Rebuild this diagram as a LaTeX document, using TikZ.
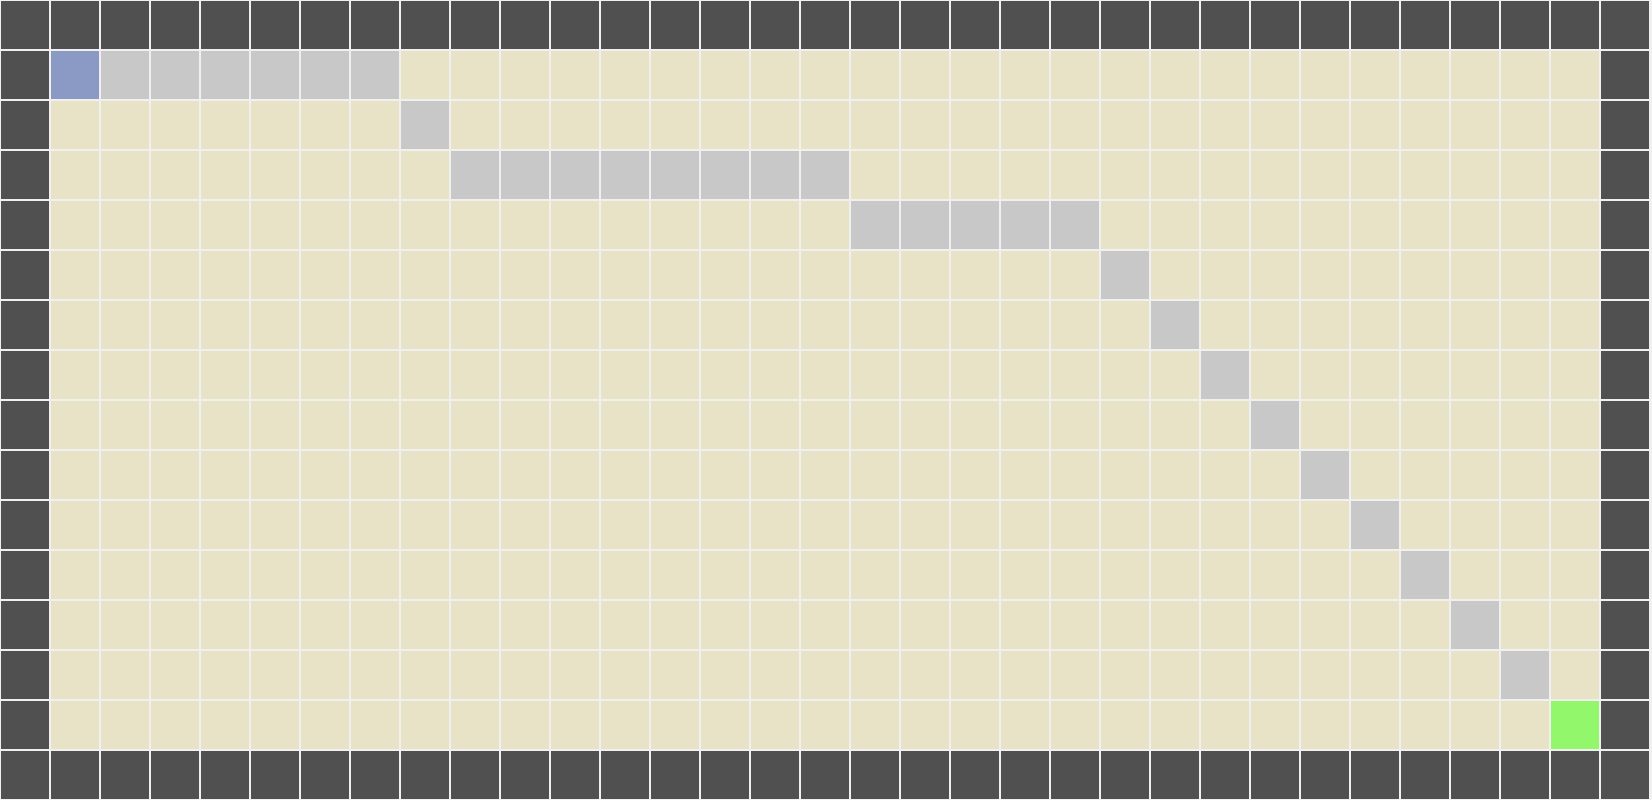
\documentclass[tikz,border=0pt]{standalone}
\usepackage{tikz}
\definecolor{gapc}{HTML}{F0F0F0}
\definecolor{wallc}{HTML}{505050}
\definecolor{floorc}{HTML}{E8E2C6}
\definecolor{pathc}{HTML}{C8C8C8}
\definecolor{startc}{HTML}{8A9AC4}
\definecolor{goalc}{HTML}{92F76A}
\tikzset{cellbox/.style={inner sep=0pt, minimum width=48pt, minimum height=48pt, draw=none}}
\begin{document}
\begin{tikzpicture}[x=1pt,y=-1pt]
\fill[gapc] (0,0) rectangle (1652,800);
\useasboundingbox (0,0) rectangle (1652,800);
% floor and walls
\foreach \r in {0,...,15}{
  \foreach \c in {0,...,32}{
    \pgfmathsetmacro{\iswall}{(\r==0 || \r==15 || \c==0 || \c==32) ? 1 : 0}
    \ifdim\iswall pt>0.5pt
      \node[cellbox, fill=wallc] (c-\r-\c) at ({\c*50+25},{\r*50+25}) {};
    \else
      \node[cellbox, fill=floorc] (c-\r-\c) at ({\c*50+25},{\r*50+25}) {};
    \fi
  }
}
% path cells
\foreach \r/\c in {1/2,1/3,1/4,1/5,1/6,1/7,2/8,3/9,3/10,3/11,3/12,3/13,3/14,3/15,3/16,4/17,4/18,4/19,4/20,4/21,5/22,6/23,7/24,8/25,9/26,10/27,11/28,12/29,13/30}{
  \node[cellbox, fill=pathc] (p-\r-\c) at ({\c*50+25},{\r*50+25}) {};
}
\node[cellbox, fill=startc] (start) at (75,75) {};
\node[cellbox, fill=goalc] (goal) at ({31*50+25},{14*50+25}) {};
\end{tikzpicture}
\end{document}
